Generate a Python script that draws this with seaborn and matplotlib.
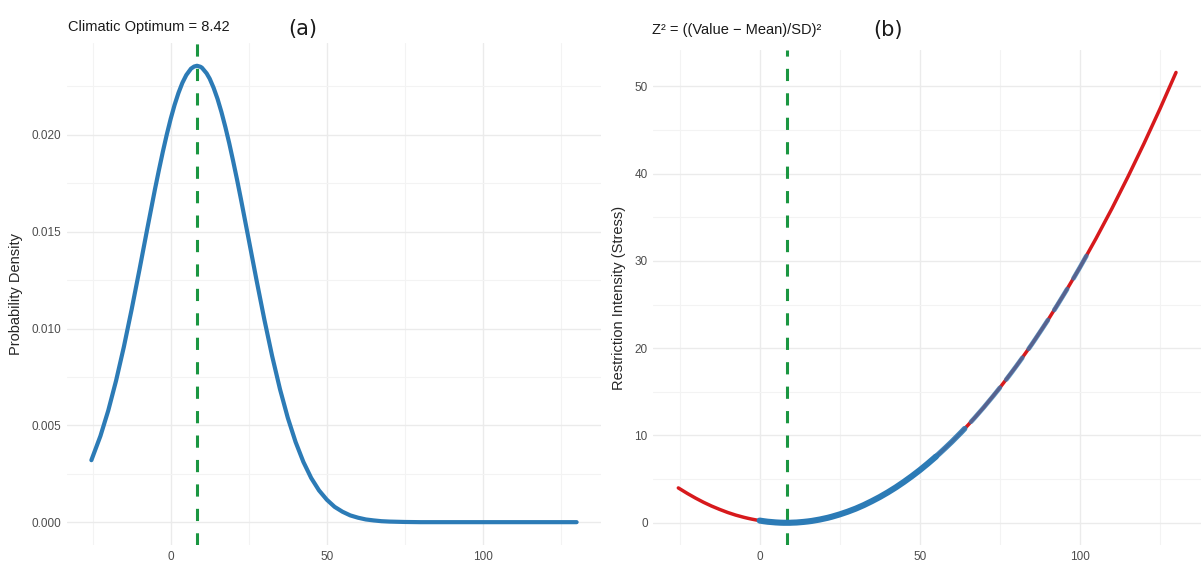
import matplotlib
matplotlib.use("Agg")
import matplotlib.pyplot as plt
import pandas as pd
import seaborn as sns
from matplotlib.ticker import MultipleLocator, FormatStrFormatter

# values
optimum = 8.42

x_vals = [-25.4, -22.5, -20, -17.5, -15, -12.5, -10, -7.5, -5, -3.75,
          -2.5, -1.25, 0, 1.25, 2.5, 3.75, 5, 6.5, 7.5, 8.42,
          9.5, 10, 11.5, 12.5, 13.75, 15, 16.25, 17.5, 18.75, 20,
          21.25, 22.5, 25, 27.5, 30, 32.5, 35, 37.5, 40, 42.5,
          45, 47.5, 50, 52.5, 55, 57.5, 60, 62.5, 65, 67.5,
          70, 75, 80, 85, 90, 95, 100, 105, 110, 115,
          120, 125, 130]

density_vals = [0.00320, 0.00445, 0.00576, 0.00730, 0.00905, 0.01099, 0.01304, 0.01515, 0.01722, 0.01820,
                0.01914, 0.02002, 0.02083, 0.02155, 0.02217, 0.02269, 0.02309, 0.02342, 0.02353, 0.02357,
                0.02352, 0.02347, 0.02318, 0.02290, 0.02243, 0.02186, 0.02118, 0.02041, 0.01957, 0.01865,
                0.01769, 0.01668, 0.01459, 0.01249, 0.01046, 0.00857, 0.00687, 0.00539, 0.00414, 0.00311,
                0.00228, 0.00164, 0.00116, 0.00079, 0.00054, 0.00035, 0.00023, 0.00014, 0.00009, 0.00005,
                0.00003, 0.00001, 0, 0, 0, 0, 0, 0, 0, 0,
                0, 0, 0]

stress_vals = [3.99, 3.34, 2.82, 2.34, 1.91, 1.53, 1.18, 0.88, 0.63, 0.52,
               0.42, 0.33, 0.25, 0.18, 0.12, 0.08, 0.04, 0.01, 0.00, 0.00,
               0.00, 0.01, 0.03, 0.06, 0.10, 0.15, 0.21, 0.29, 0.37, 0.47,
               0.57, 0.69, 0.96, 1.27, 1.62, 2.02, 2.47, 2.95, 3.48, 4.05,
               4.67, 5.33, 6.03, 6.78, 7.57, 8.41, 9.28, 10.20, 11.17, 12.18,
               13.23, 15.47, 17.88, 20.46, 23.22, 26.16, 29.26, 32.55, 36.00, 39.64,
               43.44, 47.42, 51.58]

# observed values on the stress curve past the dense band, split where red shows through
obs_x = [55, 56, 57, 58, 59, 60, 61, 62, 63, 64,
         66, 67, 68, 69, 70, 71, 72, 73, 74, 75,
         77, 78, 79, 80, 81, 82,
         84, 85, 86, 87, 88, 89, 90,
         92, 93, 94, 95, 96,
         98, 99, 100, 101, 102]
obs_y = [7.57, 7.90, 8.24, 8.58, 8.93, 9.28, 9.65, 10.02, 10.39, 10.78,
         11.57, 11.97, 12.39, 12.81, 13.23, 13.67, 14.11, 14.55, 15.01, 15.47,
         16.41, 16.89, 17.38, 17.88, 18.38, 18.89,
         19.93, 20.46, 21.00, 21.55, 22.10, 22.66, 23.22,
         24.38, 24.96, 25.56, 26.16, 26.76,
         28.00, 28.63, 29.26, 29.91, 30.56]
obs_run = [1] * 10 + [2] * 10 + [3] * 6 + [4] * 7 + [5] * 5 + [6] * 5

blue = "#2c7bb6"
red = "#d7191c"
green = "#1a9641"

curve = pd.DataFrame({"x": x_vals, "density": density_vals, "stress": stress_vals})
band = curve[(curve["x"] >= 0) & (curve["x"] <= 55)]
obs = pd.DataFrame({"x": obs_x, "stress": obs_y, "run": obs_run})

sns.set_style("white")
plt.rcParams["font.family"] = ["Liberation Sans", "DejaVu Sans"]

fig = plt.figure(figsize=(12.01, 5.61), dpi=100)
ax1 = fig.add_axes([0.0558, 0.0285, 0.4446, 0.895])
ax2 = fig.add_axes([0.544, 0.028, 0.456, 0.883])


def style_axis(ax):
    for s in ax.spines.values():
        s.set_visible(False)
    ax.grid(which="major", color="#ebebeb", linewidth=1.0)
    ax.grid(which="minor", color="#f3f3f3", linewidth=0.8)
    ax.set_axisbelow(True)
    ax.tick_params(which="both", length=0, labelsize=8.5, labelcolor="#4d4d4d", pad=4)
    ax.xaxis.set_major_locator(MultipleLocator(50))
    ax.xaxis.set_minor_locator(MultipleLocator(25))
    ax.set_xlim(-33.2, 137.8)
    ax.set_xlabel("")


# (a) density
sns.lineplot(data=curve, x="x", y="density", ax=ax1, color=blue, linewidth=3.0,
             solid_joinstyle="round")
ax1.axvline(optimum, color=green, linewidth=2.2, dashes=(4, 4))
style_axis(ax1)
ax1.set_ylim(-0.00118, 0.02475)
ax1.yaxis.set_major_locator(MultipleLocator(0.005))
ax1.yaxis.set_minor_locator(MultipleLocator(0.0025))
ax1.yaxis.set_major_formatter(FormatStrFormatter("%.3f"))
ax1.set_ylabel("Probability Density", fontsize=10.5, labelpad=6)

# (b) stress
sns.lineplot(data=curve, x="x", y="stress", ax=ax2, color=red, linewidth=2.5,
             solid_joinstyle="round", zorder=2)
sns.lineplot(data=band, x="x", y="stress", ax=ax2, color=blue, linewidth=4.4,
             solid_joinstyle="round", zorder=3)
for run_id, grp in obs.groupby("run"):
    sns.lineplot(data=grp, x="x", y="stress", ax=ax2, color=blue,
                 linewidth=4.0 if run_id == 1 else 3.4,
                 alpha=0.9 if run_id == 1 else 0.75, zorder=3)
ax2.axvline(optimum, color=green, linewidth=2.2, dashes=(4, 4))
style_axis(ax2)
ax2.set_ylim(-2.58, 54.16)
ax2.yaxis.set_major_locator(MultipleLocator(10))
ax2.yaxis.set_minor_locator(MultipleLocator(5))
ax2.set_ylabel("Restriction Intensity (Stress)", fontsize=10.5, labelpad=6)

fig.text(68 / 1201, 1 - 27 / 561, "Climatic Optimum = 8.42", fontsize=10.5,
         ha="left", va="center", color="#1a1a1a")
fig.text(303 / 1201, 1 - 29 / 561, "(a)", fontsize=15, ha="center", va="center",
         family="DejaVu Sans", color="#1a1a1a")
fig.text(652 / 1201, 1 - 30 / 561, "Z² = ((Value − Mean)/SD)²", fontsize=10.5,
         ha="left", va="center", color="#1a1a1a")
fig.text(888 / 1201, 1 - 30 / 561, "(b)", fontsize=15, ha="center", va="center",
         family="DejaVu Sans", color="#1a1a1a")

fig.savefig("out.png", dpi=100)
